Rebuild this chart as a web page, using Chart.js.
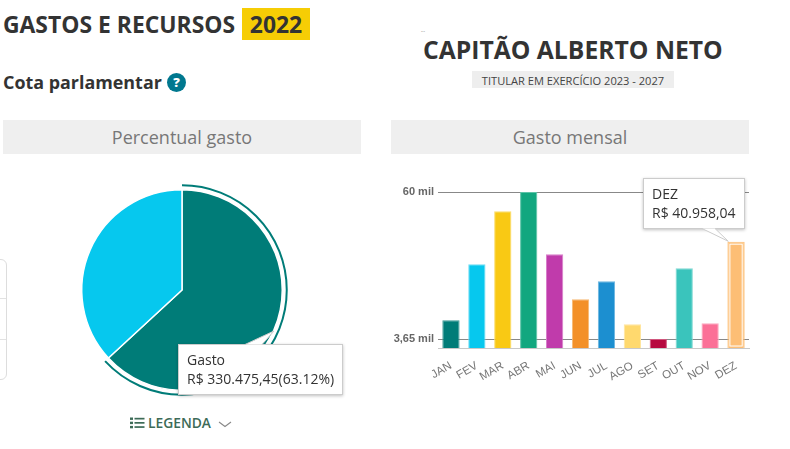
<!DOCTYPE html>
<html lang="pt-BR"><head><meta charset="utf-8">
<script src="https://cdn.jsdelivr.net/npm/chart.js@4"></script>
<style>
html,body{margin:0;padding:0;background:#fff;width:790px;height:449px;overflow:hidden;font-family:"Open Sans",sans-serif}
.a{position:absolute;white-space:nowrap}
.band{background:#efefef;color:#777;text-align:center;height:34px;line-height:34px;font-size:18px;top:120px;width:358px}
.tip{background:#fff;border:1px solid #ccc;box-shadow:0 1px 3px rgba(0,0,0,.25);color:#333;font-size:14px;line-height:18.5px;box-sizing:border-box;z-index:3}
canvas{position:absolute;display:block}
svg{position:absolute;overflow:visible;z-index:4}
</style></head><body>
<div class="a" style="left:3px;top:9px;font-size:22.9px;font-weight:700;color:#333;line-height:32px">GASTOS E RECURSOS</div>
<div class="a" style="left:242px;top:8px;width:68px;height:32px;background:#f6cd05;color:#333;font-size:22.9px;font-weight:700;text-align:center;line-height:33px">2022</div>
<div class="a" style="left:3px;top:69px;font-size:17.9px;font-weight:700;color:#333;line-height:26px">Cota parlamentar</div>
<div class="a" style="left:167px;top:73px;width:19px;height:19px;border-radius:50%;background:#00788f;color:#fff;font-size:13px;font-weight:800;text-align:center;line-height:19px">?</div>
<div class="a" style="left:421px;top:27px;font-size:5px;color:#555;line-height:6px">...</div>
<div class="a" style="left:423px;top:33px;font-size:24.7px;font-weight:700;color:#333;line-height:34px">CAPITÃO ALBERTO NETO</div>
<div class="a" style="left:472px;top:71px;width:202px;height:17px;background:#eee;color:#444;font-size:11.1px;text-align:center;line-height:19px">TITULAR EM EXERCÍCIO 2023 - 2027</div>
<div class="a band" style="left:3px">Percentual gasto</div>
<div class="a band" style="left:391px">Gasto mensal</div>

<div class="a" style="left:-20px;top:259px;width:25px;height:119px;border:1px solid #ddd;border-radius:6px"></div>
<div class="a" style="left:0;top:298px;width:6px;height:1px;background:#e2e2e2"></div>
<div class="a" style="left:0;top:339px;width:6px;height:1px;background:#e2e2e2"></div>

<canvas id="pie" style="left:71px;top:179px" width="222" height="222"></canvas>
<canvas id="bar" style="left:390px;top:170px" width="370" height="220"></canvas>

<div class="a tip" id="pieTip" style="left:178px;top:344px;width:165px;height:51px;padding:6px 0 0 8px"></div>
<svg style="left:0;top:0" width="790" height="449"><polygon points="245,344.5 274,331 262,344.5" fill="#fff"/><polyline points="245,344.5 274,331 262,344.5" fill="none" stroke="#ccc"/><polygon points="702,228.5 728.3,241.3 715,228.5" fill="#fff"/><polyline points="702,228.5 728.3,241.3 715,228.5" fill="none" stroke="#ccc"/></svg>
<div class="a tip" id="barTip" style="left:643px;top:178px;width:102px;height:51px;padding:6px 0 0 8px"></div>

<svg style="left:130px;top:417px" width="15" height="12"><g fill="#3d6b57"><rect x="0" y="0.5" width="3" height="2.4"/><rect x="0" y="4.7" width="3" height="2.4"/><rect x="0" y="8.9" width="3" height="2.4"/><rect x="4.5" y="0.8" width="10" height="1.7"/><rect x="4.5" y="5" width="10" height="1.7"/><rect x="4.5" y="9.2" width="10" height="1.7"/></g></svg>
<div class="a" style="left:148px;top:414px;font-size:13.8px;font-weight:600;color:#3d6b57;line-height:18px">LEGENDA</div>
<svg style="left:218px;top:421px" width="14" height="7"><polyline points="1,1 7,5.5 13,1" fill="none" stroke="#888" stroke-width="1.1"/></svg>

<script>
const pieLabels = ["Gasto", "Disponível"];
const pieValues = [330475.45, 193092.55];
const piePercent = "63.12%";
const pieColors = ["#007c78", "#06c8ee"];

const months = ["JAN","FEV","MAR","ABR","MAI","JUN","JUL","AGO","SET","OUT","NOV","DEZ"];
const monthly = [10.8, 32.3, 52.6, 60, 36.1, 18.9, 25.8, 9.3, 3.65, 30.8, 9.7, 40.958];
const barColors = ["#007c78","#06c8ee","#f9c914","#12a77f","#c03bab","#f39028","#1c8fd0","#ffd96e","#b70a40","#3ac4bc","#fb7097","#fdbe75"];
const barEdges = ["#3a9996","#6fdcf3","#fbdd6b","#5cc3a7","#d87fca","#f7b873","#6cb6e0","#ffe59f","#d0567d","#80d8d3","#fca8c0","#fdbe75"];
const yTicks = [3.65, 60];
const yTickLabels = {"3.65":"3,65 mil","60":"60 mil"};
const yRange = [0.2, 60];
const highlightedMonth = 11;
const highlightedAmount = "R$ 40.958,04";
const highlightedSlice = 0;
const sliceAmount = "R$ 330.475,45";

Chart.defaults.animation = false;
Chart.defaults.responsive = false;

const halo = {
  id:"halo",
  afterDatasetsDraw(c){
    const a = c.getDatasetMeta(0).data[highlightedSlice];
    const g = c.ctx; g.save();
    g.beginPath(); g.arc(a.x,a.y,a.outerRadius+4.5,a.startAngle,a.endAngle);
    g.strokeStyle = pieColors[highlightedSlice]; g.lineWidth = 2; g.stroke();
    g.restore();
  }
};
new Chart(document.getElementById("pie"),{
  type:"pie",
  data:{labels:pieLabels,datasets:[{data:pieValues,backgroundColor:pieColors,borderColor:"#fff",borderWidth:1.5}]},
  options:{layout:{padding:10},plugins:{legend:{display:false},tooltip:{enabled:false}}},
  plugins:[halo]
});

const barMark = {
  id:"barMark",
  afterDatasetsDraw(c){
    const b = c.getDatasetMeta(0).data[highlightedMonth];
    const g = c.ctx, w = b.width, x = b.x-w/2, y = b.y, h = b.base-b.y;
    g.save();
    g.strokeStyle = "#fff"; g.lineWidth = 1;
    g.strokeRect(x+2.5,y+2.5,w-5,h-5);
    g.restore();
  }
};
new Chart(document.getElementById("bar"),{
  type:"bar",
  data:{labels:months,datasets:[{data:monthly,backgroundColor:barColors,borderColor:barEdges,borderWidth:1,barPercentage:.667,categoryPercentage:1}]},
  options:{
    layout:{padding:{top:22,right:11,left:0,bottom:0}},
    plugins:{legend:{display:false},tooltip:{enabled:false}},
    scales:{
      x:{
        afterFit(s){s.height=42},
        grid:{display:false},
        border:{color:"#c8c8c8"},
        ticks:{color:"#777",autoSkip:false,font:{family:"'Liberation Sans'",size:11.5},minRotation:30,maxRotation:30,padding:3}
      },
      y:{
        min:yRange[0],max:yRange[1],
        afterFit(s){s.width=48},
        afterBuildTicks(s){s.ticks=yTicks.map(v=>({value:v}))},
        grid:{color:"#888",drawTicks:false},
        border:{display:false},
        ticks:{color:"#666",padding:4,font:{family:"'Liberation Sans'",size:11,weight:"bold"},callback:v=>yTickLabels[String(v)]}
      }
    }
  },
  plugins:[barMark]
});

document.getElementById("pieTip").innerHTML = pieLabels[highlightedSlice]+"<br>"+sliceAmount+"("+piePercent+")";
document.getElementById("barTip").innerHTML = months[highlightedMonth]+"<br>"+highlightedAmount;
</script>
</body></html>
